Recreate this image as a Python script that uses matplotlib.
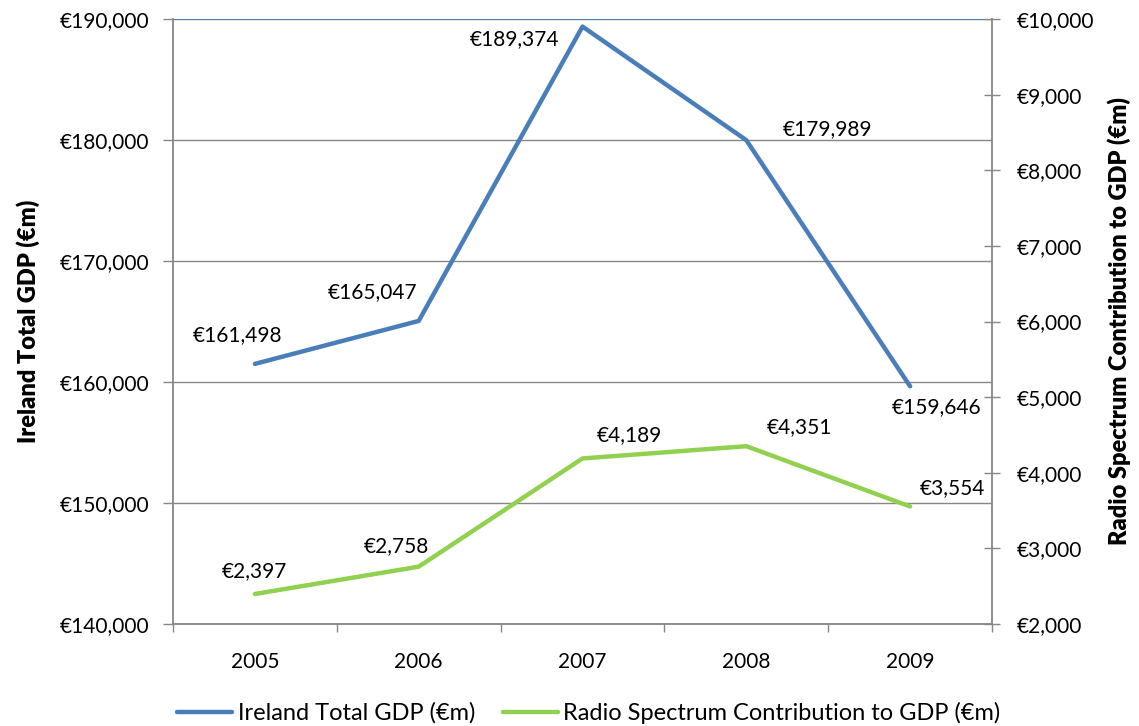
import matplotlib
matplotlib.use("Agg")
import matplotlib.pyplot as plt
from matplotlib.ticker import FuncFormatter, MultipleLocator

plt.rcParams['font.family'] = ['Lato', 'DejaVu Sans']

years = ["2005", "2006", "2007", "2008", "2009"]
gdp_total = [161498, 165047, 189374, 179989, 159646]
spectrum_contrib = [2397, 2758, 4189, 4351, 3554]

gdp_name = "Ireland Total GDP (€m)"
spectrum_name = "Radio Spectrum Contribution to GDP (€m)"

BLUE = "#4A7EBB"
GREEN = "#92D050"
GREY = "#868686"
FS = 15

# label offsets in pixels (dx, dy) relative to each point
gdp_offsets = [(-17, 29), (-46, 29), (-68, -13), (81, 11), (26, -21)]
spec_offsets = [(0, 23), (-22, 21), (47, 23), (53, 19), (42, 18)]

fig = plt.figure(figsize=(11.39, 7.26), dpi=100)
ax = fig.add_axes([173 / 1139, 1 - 624 / 726, (992 - 173) / 1139, (624 - 19) / 726])
ax2 = ax.twinx()

x = list(range(len(years)))
euro = FuncFormatter(lambda v, p: "€{:,.0f}".format(v))

# left axis
ax.set_xlim(-0.5, len(years) - 0.5)
ax.set_ylim(140000, 190000)
ax.yaxis.set_major_locator(MultipleLocator(10000))
ax.yaxis.set_major_formatter(euro)
ax.grid(axis='y', color=GREY, lw=1.0)
ax.set_axisbelow(True)
ax.axhline(190000, color=BLUE, lw=1.3, zorder=2)
ax.set_xticks([i - 0.5 for i in range(len(years) + 1)])
ax.set_xticklabels([])
ax.set_xticks(x, minor=True)
ax.set_xticklabels(years, minor=True)
ax.tick_params(axis='x', which='major', length=6, color=GREY, width=1)
ax.tick_params(axis='x', which='minor', length=0, pad=20, labelsize=FS)
ax.tick_params(axis='y', length=7, color=GREY, width=1, labelsize=FS, pad=10)
for s in ['top', 'right']:
    ax.spines[s].set_visible(False)
for s in ['left', 'bottom']:
    ax.spines[s].set_color(GREY)
    ax.spines[s].set_linewidth(1.3)
ax.set_ylabel(gdp_name, fontsize=17, fontweight='heavy', labelpad=14)

# right axis
ax2.set_ylim(2000, 10000)
ax2.yaxis.set_major_locator(MultipleLocator(1000))
ax2.yaxis.set_major_formatter(euro)
ax2.tick_params(axis='y', direction='inout', length=11, color=GREY, width=1, labelsize=FS, pad=12)
for s in ['top', 'left', 'bottom']:
    ax2.spines[s].set_visible(False)
ax2.spines['right'].set_color(GREY)
ax2.spines['right'].set_linewidth(1.3)
ax2.set_ylabel(spectrum_name, fontsize=17, fontweight='heavy', labelpad=10)

l1, = ax.plot(x, gdp_total, color=BLUE, lw=3.2, solid_capstyle='round', zorder=3, label=gdp_name)
l2, = ax2.plot(x, spectrum_contrib, color=GREEN, lw=3.2, solid_capstyle='round', zorder=3, label=spectrum_name)

for xi, v, (dx, dy) in zip(x, gdp_total, gdp_offsets):
    ax.annotate("€{:,}".format(v), (xi, v), xytext=(dx, dy), textcoords='offset pixels',
                ha='center', va='center', fontsize=FS)
for xi, v, (dx, dy) in zip(x, spectrum_contrib, spec_offsets):
    ax2.annotate("€{:,}".format(v), (xi, v), xytext=(dx, dy), textcoords='offset pixels',
                 ha='center', va='center', fontsize=FS)

fig.legend([l1, l2], [gdp_name, spectrum_name], loc='center', bbox_to_anchor=(0.517, 1 - 713 / 726),
           ncol=2, frameon=False, fontsize=17, handlelength=2.33, handletextpad=0.25, columnspacing=1.15)

fig.savefig("out.png", dpi=100)
